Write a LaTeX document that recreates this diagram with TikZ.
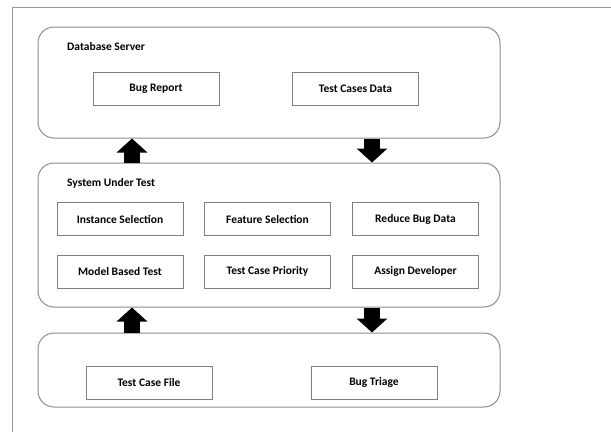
\documentclass[tikz,border=0pt]{standalone}
\usepackage{fontspec}
\setmainfont{Carlito}
\usetikzlibrary{arrows.meta}
\begin{document}
\begin{tikzpicture}[x=1pt,y=-1pt,
  container/.style={draw=black!45, line width=1pt, rounded corners=16pt, minimum width=462pt, inner sep=0pt},
  itembox/.style={draw=black!50, line width=0.7pt, minimum width=126pt, minimum height=33pt, inner sep=0pt, font=\bfseries\fontsize{11.5}{13}\selectfont},
  title/.style={anchor=west, inner sep=0pt, font=\bfseries\fontsize{11.5}{13}\selectfont},
  blockarrow/.style={line width=16pt, -{Triangle[width=30pt,length=14pt]}, black}]
\useasboundingbox (0,0) rectangle (611,432);
\fill[white] (0,0) rectangle (611,432);
\coordinate (fb) at (12,432);
\coordinate (fc) at (12,7);
\coordinate (fr) at (611,7);
\draw[black!40, line width=1pt] (fb) -- (fc) -- (fr);

\node[container, minimum height=111pt] (db) at (269,82.5) {};
\node[container, minimum height=144pt] (sut) at (269,235) {};
\node[container, minimum height=74pt] (bot) at (269,370) {};

\node[title] (dbt) at (67,47) {Database Server};
\node[title] (sutt) at (67,183) {System Under Test};

\node[itembox] (br) at (156,88.5) {Bug Report};
\node[itembox] (tcd) at (355.5,88.5) {Test Cases Data};

\node[itembox] (is) at (120,219) {Instance Selection};
\node[itembox] (fs) at (267.5,219) {Feature Selection};
\node[itembox] (rbd) at (415.5,219) {Reduce Bug Data};
\node[itembox] (mbt) at (120,271.5) {Model Based Test};
\node[itembox] (tcp) at (267.5,271.5) {Test Case Priority};
\node[itembox] (ad) at (415.5,271.5) {Assign Developer};

\node[itembox] (tcf) at (149,382.5) {Test Case File};
\node[itembox] (bt) at (374,382.5) {Bug Triage};

\coordinate (xl) at (132,0);
\coordinate (xr) at (372,0);
\draw[blockarrow] (sut.north -| xl) -- (db.south -| xl);
\draw[blockarrow] (db.south -| xr) -- (sut.north -| xr);
\draw[blockarrow] (bot.north -| xl) -- (sut.south -| xl);
\draw[blockarrow] (sut.south -| xr) -- (bot.north -| xr);
\end{tikzpicture}
\end{document}
